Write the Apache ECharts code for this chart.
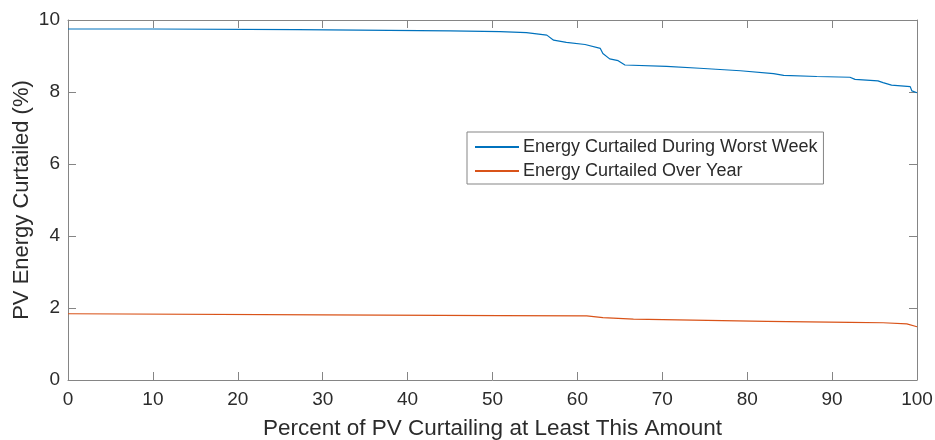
<!DOCTYPE html>
<html><head><meta charset="utf-8">
<script src="https://cdn.jsdelivr.net/npm/echarts@6/dist/echarts.min.js"></script>
<style>html,body{margin:0;padding:0;background:#fff}#c{width:935px;height:440px}</style>
</head><body><div id="c"></div>
<script>
const xTicks = [0,10,20,30,40,50,60,70,80,90,100];
const yTicks = [0,2,4,6,8,10];
const weekX = [0, 10, 27, 45, 50.9, 54, 56.4, 57.2, 58.7, 60.9, 62.7, 63.0, 63.8, 64.8, 65.6, 70.5, 74.4, 79.2, 83.1, 84.3, 88.2, 92.1, 92.7, 95.4, 96.0, 97.0, 99.2, 99.4, 100];
const weekY = [9.75, 9.75, 9.73, 9.70, 9.675, 9.65, 9.58, 9.44, 9.38, 9.32, 9.21, 9.07, 8.92, 8.87, 8.75, 8.71, 8.66, 8.59, 8.51, 8.46, 8.43, 8.41, 8.35, 8.31, 8.26, 8.19, 8.15, 8.03, 7.98];
const yearX = [0, 30, 50.9, 61.1, 63.0, 66.6, 82.3, 92.1, 96.0, 98.8, 100];
const yearY = [1.84, 1.81, 1.79, 1.78, 1.73, 1.69, 1.63, 1.60, 1.59, 1.56, 1.48];
const names = ['Energy Curtailed During Worst Week', 'Energy Curtailed Over Year'];

const pairs = (xs, ys) => xs.map((x, i) => [x, ys[i]]);
const axisCol = '#858585';
const txtCol = '#2b2b2b';
const font = 'Liberation Sans, Arial, sans-serif';

const chart = echarts.init(document.getElementById('c'));
chart.setOption({
  animation: false,
  grid: {left: 68, right: 18, top: 20, bottom: 60, outerBoundsMode: 'none', containLabel: false},
  legend: {
    orient: 'vertical', left: 467, top: 132,
    padding: [6, 6, 4, 8], itemGap: 6,
    borderColor: axisCol, borderWidth: 1, backgroundColor: '#fff',
    itemWidth: 44, itemHeight: 2, icon: 'rect', itemStyle: {borderWidth: 0},
    textStyle: {fontSize: 18, fontFamily: font, color: txtCol, padding: [0,0,0,-1]},
    data: names
  },
  xAxis: [{
    type: 'value', min: 0, max: 100, interval: 10,
    name: 'Percent of PV Curtailing at Least This Amount', nameLocation: 'middle', nameGap: 37,
    nameMoveOverlap: false,
    nameTextStyle: {fontSize: 22.5, fontFamily: font, color: txtCol},
    axisLine: {show: true, onZero: false, lineStyle: {color: axisCol}},
    axisTick: {show: true, inside: true, length: 8, lineStyle: {color: axisCol}},
    axisLabel: {fontSize: 19, fontFamily: font, color: txtCol, margin: 10},
    splitLine: {show: false}
  }, {
    type: 'value', min: 0, max: 100, interval: 10, position: 'top',
    axisLine: {show: true, onZero: false, lineStyle: {color: axisCol}},
    axisTick: {show: true, inside: true, length: 8, lineStyle: {color: axisCol}},
    axisLabel: {show: false}, splitLine: {show: false}
  }],
  yAxis: [{
    type: 'value', min: 0, max: 10, interval: 2,
    name: 'PV Energy Curtailed (%)', nameLocation: 'middle', nameGap: 35,
    nameMoveOverlap: false,
    nameTextStyle: {fontSize: 22, fontFamily: font, color: txtCol},
    axisLine: {show: true, onZero: false, lineStyle: {color: axisCol}},
    axisTick: {show: true, inside: true, length: 8, lineStyle: {color: axisCol}},
    axisLabel: {fontSize: 19, fontFamily: font, color: txtCol, margin: 8},
    splitLine: {show: false}
  }, {
    type: 'value', min: 0, max: 10, interval: 2, position: 'right',
    axisLine: {show: true, onZero: false, lineStyle: {color: axisCol}},
    axisTick: {show: true, inside: true, length: 8, lineStyle: {color: axisCol}},
    axisLabel: {show: false}, splitLine: {show: false}
  }],
  series: [{
    name: names[0], type: 'line', data: pairs(weekX, weekY), showSymbol: false, symbol: 'none',
    lineStyle: {color: '#0072BD', width: 1.2}, itemStyle: {color: '#0072BD'}
  }, {
    name: names[1], type: 'line', data: pairs(yearX, yearY), showSymbol: false, symbol: 'none',
    lineStyle: {color: '#D95319', width: 1.2}, itemStyle: {color: '#D95319'}
  }]
});
</script></body></html>
